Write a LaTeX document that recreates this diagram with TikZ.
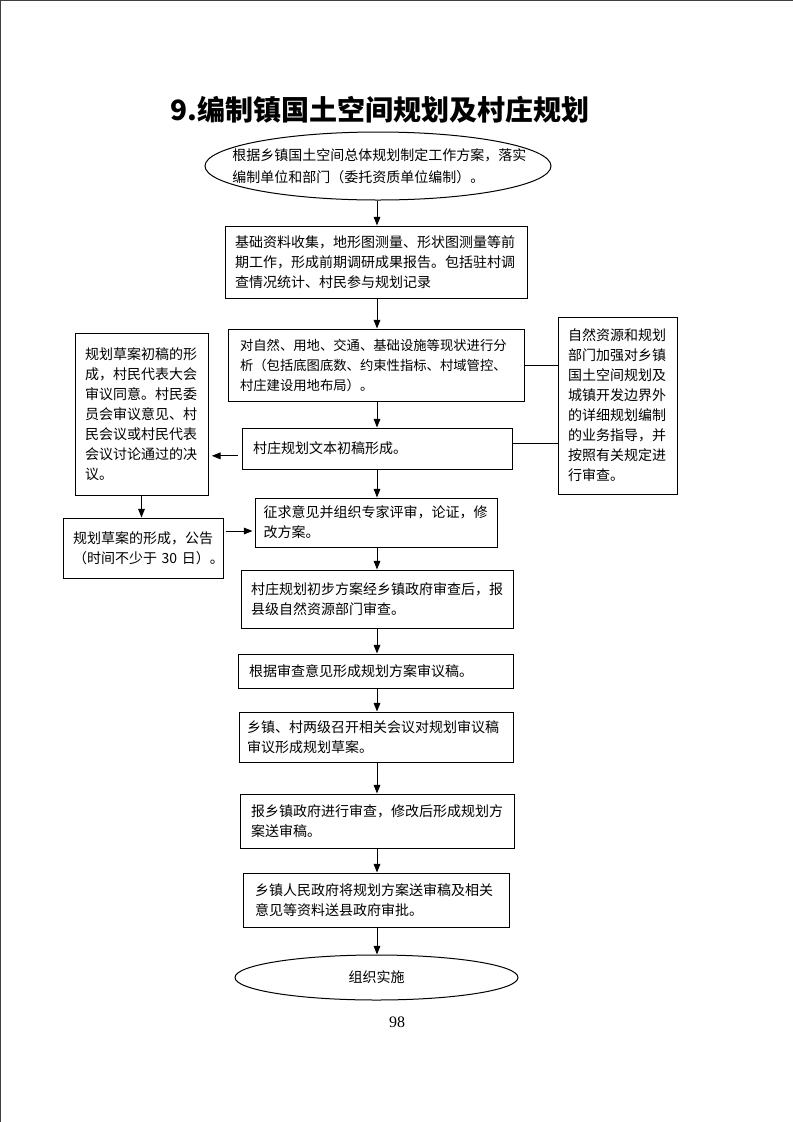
\documentclass[tikz,border=0pt]{standalone}
\usepackage{fontspec}
\setmainfont{Liberation Serif}
\newfontfamily\cjk{Noto Sans CJK SC}
\usetikzlibrary{arrows.meta,shapes.geometric}
\tikzset{
  box/.style={draw, line width=0.75pt, rectangle, inner ysep=0pt, align=left,
    font=\cjk\fontsize{10.5pt}{15pt}\selectfont},
  oval/.style={draw, line width=0.75pt, ellipse, inner sep=0pt},
  arr/.style={draw, line width=0.75pt, -{Triangle[length=6.5pt,width=5pt]}},
  ln/.style={draw, line width=0.75pt},
}
\begin{document}
\begin{tikzpicture}[x=0.75pt,y=-0.75pt]
\useasboundingbox (0,0) rectangle (793,1122);
% page edges
\draw[line width=1.1pt, black!75] (0.7,1122) -- (0.7,0.7) -- (793,0.7);

\node[font=\cjk\bfseries\fontsize{21pt}{25pt}\selectfont] (title) at (380,110) {9.编制镇国土空间规划及村庄规划};

\coordinate (cx) at (377,0);

\node[oval, minimum width=259.5pt, minimum height=51pt] (e1) at (378,166) {};
\node[anchor=west, align=left, inner sep=0pt, font=\cjk\fontsize{10.5pt}{16.5pt}\selectfont] (t1) at (232,166)
  {根据乡镇国土空间总体规划制定工作方案，落实\\编制单位和部门（委托资质单位编制）。};

\node[box, minimum width=226.5pt, minimum height=54pt, text width=211.5pt, inner xsep=7.5pt] (b2) at (376,262)
  {基础资料收集，地形图测量、形状图测量等前\\期工作，形成前期调研成果报告。包括驻村调\\查情况统计、村民参与规划记录};

\node[box, minimum width=222pt, minimum height=54pt, text width=204pt, inner xsep=9pt,
  font=\cjk\fontsize{10pt}{15pt}\selectfont] (b3) at (376,365)
  {对自然、用地、交通、基础设施等现状进行分\\析（包括底图底数、约束性指标、村域管控、\\村庄建设用地布局）。};

\node[box, minimum width=202.5pt, minimum height=30.75pt, text width=186pt, inner xsep=8.25pt] (b4) at (377,448.5)
  {村庄规划文本初稿形成。};

\node[box, minimum width=181.5pt, minimum height=36.75pt, text width=168.5pt, inner xsep=6.5pt] (b5) at (376,522.5)
  {征求意见并组织专家评审，论证，修\\改方案。};

\node[box, minimum width=204pt, minimum height=43.5pt, text width=189pt, inner xsep=7.5pt] (b6) at (377,599)
  {村庄规划初步方案经乡镇政府审查后，报\\县级自然资源部门审查。};

\node[box, minimum width=206.25pt, minimum height=25.5pt, text width=189.75pt, inner xsep=8.25pt] (b7) at (375.5,671)
  {根据审查意见形成规划方案审议稿。};

\node[box, minimum width=205.5pt, minimum height=37.5pt, text width=193.5pt, inner xsep=6pt] (b8) at (376,737)
  {乡镇、村两级召开相关会议对规划审议稿\\审议形成规划草案。};

\node[box, minimum width=205.5pt, minimum height=40.5pt, text width=189pt, inner xsep=8.25pt] (b9) at (377,821)
  {报乡镇政府进行审查，修改后形成规划方\\案送审稿。};

\node[box, minimum width=199.5pt, minimum height=40.5pt, text width=181.5pt, inner xsep=9pt] (b10) at (376,900)
  {乡镇人民政府将规划方案送审稿及相关\\意见等资料送县政府审批。};

\node[oval, minimum width=212.25pt, minimum height=33.75pt, font=\cjk\fontsize{10.5pt}{15pt}\selectfont] (e2) at (376.5,977.5)
  {组织实施\hspace{18pt}};

\node[box, minimum width=99.75pt, minimum height=121.5pt, text width=84.75pt, inner xsep=7.5pt] (lb) at (141.5,414)
  {规划草案初稿的形\\成，村民代表大会\\审议同意。村民委\\员会审议意见、村\\民会议或村民代表\\会议讨论通过的决\\议。};

\node[box, minimum width=120pt, minimum height=45pt, text width=105pt, inner xsep=7.5pt] (bl) at (143,548)
  {规划草案的形成，公告\\\mbox{（时间不少于~30~日）。}};

\node[box, minimum width=89.25pt, minimum height=132.75pt, text width=74.25pt, inner xsep=7.5pt] (rb) at (617.5,405.5)
  {自然资源和规划\\部门加强对乡镇\\国土空间规划及\\城镇开发边界外\\的详细规划编制\\的业务指导，并\\按照有关规定进\\行审查。};

\node[font=\fontsize{12pt}{14pt}\selectfont] (pn) at (397,1022.5) {98};

% main column arrows
\draw[arr] (e1.south -| cx) -- (b2.north -| cx);
\draw[arr] (b2.south -| cx) -- (b3.north -| cx);
\draw[arr] (b3.south -| cx) -- (b4.north -| cx);
\draw[arr] (b4.south -| cx) -- (b5.north -| cx);
\draw[arr] (b5.south -| cx) -- (b6.north -| cx);
\draw[arr] (b6.south -| cx) -- (b7.north -| cx);
\draw[arr] (b7.south -| cx) -- (b8.north -| cx);
\draw[arr] (b8.south -| cx) -- (b9.north -| cx);
\draw[arr] (b9.south -| cx) -- (b10.north -| cx);
\draw[arr] (b10.south -| cx) -- (e2.north -| cx);

% side connections
\draw[ln] (b3.east) -- (b3.east -| rb.west);
\draw[ln] ([yshift=4pt]b4.east) -- ([yshift=4pt]b4.east -| rb.west);
\draw[arr, shorten <=3pt, shorten >=2.5pt] ([yshift=-5.5pt]b4.west) -- ([yshift=-5.5pt]b4.west -| lb.east);
\draw[arr] (lb.south) -- (lb.south |- bl.north);
\draw[arr, shorten <=1.5pt, shorten >=1.5pt] ([yshift=12.75pt]bl.east) -- ([yshift=12.75pt]bl.east -| b5.west);
\end{tikzpicture}
\end{document}
